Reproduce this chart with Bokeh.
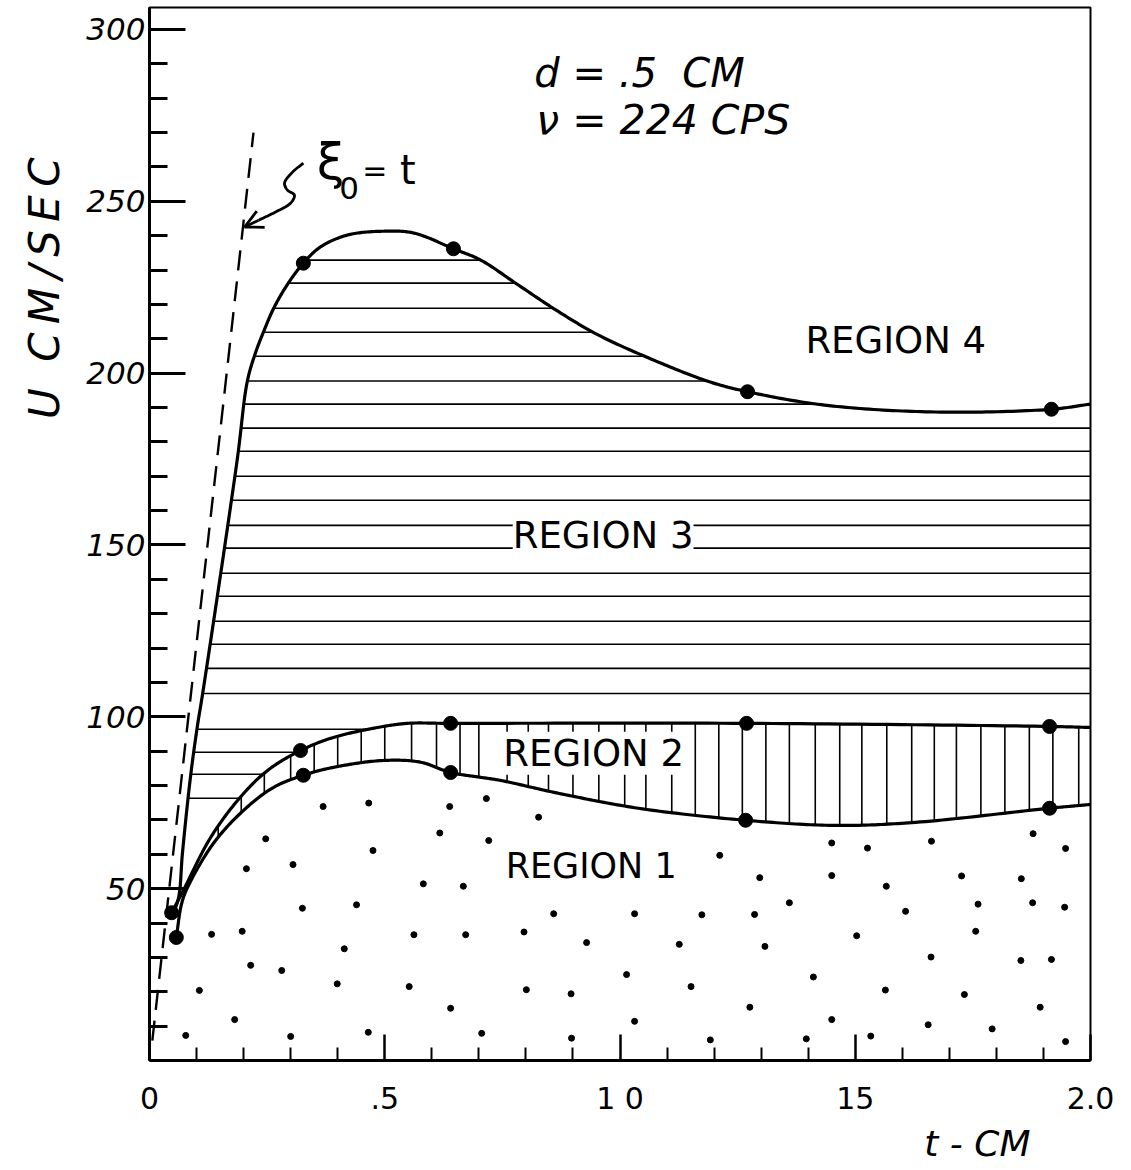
import numpy as np
from bokeh.plotting import figure
from bokeh.models import Range1d, FixedTicker, Label, Arrow, OpenHead, Title
from bokeh.embed import file_html
from bokeh.resources import INLINE

# ---------------- data ----------------
# boundary between region 3 and region 4
c4_t = [0.049, 0.062, 0.070, 0.087, 0.102, 0.113, 0.186, 0.208, 0.225, 0.242, 0.264,
        0.295, 0.327, 0.363, 0.421, 0.497, 0.561, 0.646, 0.704, 0.779, 0.859, 0.947,
        1.056, 1.190, 1.271, 1.435, 1.670, 1.917, 2.000]
c4_u = [42.2, 47.5, 60.3, 82.4, 97.5, 106.8, 174.4, 197.7, 205.8, 211.9, 218.9,
        226.2, 232.0, 236.7, 240.2, 241.3, 240.8, 236.2, 232.9, 226.1, 218.8, 211.6,
        204.7, 197.5, 194.6, 190.7, 188.7, 189.5, 191.0]
# boundary between region 2 and region 3
c2_t = [0.047, 0.072, 0.130, 0.193, 0.251, 0.321, 0.391, 0.485, 0.548, 0.640, 1.269, 1.913, 2.000]
c2_u = [43.0, 49.5, 64.9, 76.6, 84.4, 90.2, 94.0, 96.9, 98.1, 98.1, 98.1, 97.2, 96.9]
# boundary between region 1 and region 2
c1_t = [0.057, 0.068, 0.081, 0.136, 0.200, 0.264, 0.327, 0.391, 0.497, 0.576, 0.640,
        0.704, 0.746, 0.871, 1.039, 1.267, 1.460, 1.628, 1.913, 2.000]
c1_u = [35.8, 45.5, 50.4, 63.2, 72.8, 79.5, 83.0, 85.3, 87.3, 86.8, 83.8,
        82.4, 81.5, 77.7, 73.4, 69.9, 68.4, 69.3, 73.4, 74.5]

# measured points (large dots)
pt_t = [0.327, 0.646, 1.271, 1.917, 0.321, 0.640, 1.269, 1.913,
        0.327, 0.640, 1.267, 1.913, 0.057, 0.047]
pt_u = [232.0, 236.2, 194.6, 189.5, 90.2, 98.1, 98.1, 97.2,
        83.0, 83.8, 69.9, 73.4, 35.8, 43.0]

# line xi_0 = t (dashed)
xi_t = [0.006, 0.221]
xi_u = [5.8, 270.0]

# hatch levels of region 3 (U) and hatch positions of region 2 (t)
hatch_u = [232.9, 226.2, 218.9, 211.9, 204.9, 197.7, 191.0, 184.0, 177.3, 170.0, 163.0,
           155.7, 149.1, 141.8, 135.1, 127.8, 121.1, 114.1, 106.8, 96.4, 89.7, 83.3, 76.3]
vhatch_t = [0.146, 0.195, 0.244, 0.30, 0.35, 0.40, 0.45, 0.50, 0.557, 0.61, 0.66, 0.70,
            0.76, 0.805, 0.848, 0.90, 0.955, 1.01, 1.055, 1.11, 1.16, 1.21, 1.26, 1.31,
            1.36, 1.415, 1.467, 1.514, 1.567, 1.62, 1.668, 1.715, 1.767, 1.818, 1.87,
            1.92, 1.975]

# stipple dots of region 1
dot_t = [0.369, 0.466, 0.638, 0.716, 0.247, 0.475, 0.617, 0.721, 0.206, 0.305, 0.582,
         0.667, 0.325, 0.440, 0.132, 0.197, 0.562, 0.672, 0.414, 0.215, 0.281, 0.552,
         0.106, 0.399, 0.640, 0.181, 0.077, 0.300, 0.465, 0.706, 0.827, 1.212, 1.297,
         0.859, 1.031, 1.174, 1.286, 0.796, 0.929, 1.126, 1.308, 1.014, 0.801, 0.896,
         1.151, 1.276, 1.031, 0.897, 1.192, 1.450, 1.526, 1.662, 1.878, 1.947, 1.450,
         1.566, 1.726, 1.853, 1.360, 1.607, 1.761, 1.877, 1.945, 1.503, 1.756, 1.661,
         1.852, 1.917, 1.411, 1.564, 1.732, 1.893, 1.450, 1.655, 1.791, 1.396, 1.533,
         1.947]
dot_u = [73.9, 74.9, 73.9, 76.2, 64.5, 61.1, 66.2, 64.0, 55.8, 57.0, 51.4,
         50.7, 44.3, 45.3, 36.7, 37.6, 36.6, 36.6, 32.5, 27.7, 26.2, 21.5,
         20.4, 22.3, 15.2, 11.9, 7.3, 7.0, 8.2, 7.9, 70.8, 59.7, 53.2,
         42.7, 42.7, 42.4, 42.5, 37.4, 34.3, 33.8, 33.2, 25.0, 20.6, 19.4,
         21.5, 15.5, 11.4, 6.5, 6.0, 63.3, 61.8, 63.8, 66.0, 61.7, 53.8,
         50.7, 53.7, 52.9, 45.9, 43.4, 45.5, 45.9, 44.6, 36.3, 37.6, 30.1,
         29.1, 29.4, 24.3, 20.5, 19.2, 15.5, 11.9, 10.4, 9.2, 6.3, 7.1,
         5.5]

# squiggle of the pointer to the dashed line
sq_t = [0.327, 0.304, 0.287, 0.293, 0.308, 0.300, 0.268, 0.232]
sq_u = [261.1, 258.5, 255.3, 253.3, 251.8, 249.5, 246.9, 244.5]

# axis ticks
x_major = [0.0, 0.5, 1.0, 1.5, 2.0]
x_minor = [0.1, 0.2, 0.3, 0.4, 0.6, 0.7, 0.8, 0.9, 1.1, 1.2, 1.3, 1.4, 1.6, 1.7, 1.8, 1.9]
x_labels = ["0", ".5", "1\u00a00", "15", "2.0"]
y_major = [50, 100, 150, 200, 250, 300]
y_minor = [10, 20, 30, 40, 60, 70, 80, 90, 110, 120, 130, 140, 160, 170, 180, 190,
           210, 220, 230, 240, 260, 270, 280, 290]
y_labels = ["50", "100", "150", "200", "250", "300"]

# ---------------- helpers ----------------
SX, SY = 470.5, 3.435  # px per data unit, to make smoothing isotropic


def smooth(xs, ys, n=24):
    """Centripetal Catmull-Rom drawing path through the given points."""
    P = np.c_[np.asarray(xs) * SX, np.asarray(ys) * SY]
    P = np.vstack([2 * P[0] - P[1], P, 2 * P[-1] - P[-2]])
    out = []
    for i in range(1, len(P) - 2):
        p0, p1, p2, p3 = P[i - 1], P[i], P[i + 1], P[i + 2]
        t0 = 0.0
        t1 = t0 + max(np.linalg.norm(p1 - p0), 1e-6) ** 0.5
        t2 = t1 + max(np.linalg.norm(p2 - p1), 1e-6) ** 0.5
        t3 = t2 + max(np.linalg.norm(p3 - p2), 1e-6) ** 0.5
        s = np.linspace(t1, t2, n, endpoint=False)[:, None]
        a1 = (t1 - s) / (t1 - t0) * p0 + (s - t0) / (t1 - t0) * p1
        a2 = (t2 - s) / (t2 - t1) * p1 + (s - t1) / (t2 - t1) * p2
        a3 = (t3 - s) / (t3 - t2) * p2 + (s - t2) / (t3 - t2) * p3
        b1 = (t2 - s) / (t2 - t0) * a1 + (s - t0) / (t2 - t0) * a2
        b2 = (t3 - s) / (t3 - t1) * a2 + (s - t1) / (t3 - t1) * a3
        out.append((t2 - s) / (t2 - t1) * b1 + (s - t1) / (t2 - t1) * b2)
    out.append(P[-2][None, :])
    Q = np.vstack(out)
    return Q[:, 0] / SX, Q[:, 1] / SY


# ---------------- figure ----------------
FONT = "DejaVu Sans"
NB = "\u00a0"
p = figure(frame_width=941, frame_height=1053,
           x_range=Range1d(0, 2.0), y_range=Range1d(0, 306.4),
           output_backend="svg", toolbar_location=None,
           min_border_left=149, min_border_right=35, min_border_top=7, min_border_bottom=100)
p.grid.visible = False
p.background_fill_color = "white"
p.border_fill_color = "white"
p.outline_line_color = "black"
p.outline_line_width = 2

# x axis
p.xaxis.ticker = FixedTicker(ticks=x_major, minor_ticks=x_minor)
p.xaxis.major_label_overrides = {v: s for v, s in zip(x_major, x_labels)}
p.xaxis.axis_line_width = 3
p.xaxis.major_tick_in = 26
p.xaxis.major_tick_out = 0
p.xaxis.minor_tick_in = 13
p.xaxis.minor_tick_out = 0
p.xaxis.major_tick_line_width = 2.5
p.xaxis.minor_tick_line_width = 2
p.xaxis.major_label_text_font = FONT
p.xaxis.major_label_text_font_size = "30px"
p.xaxis.major_label_text_color = "black"
p.xaxis.major_label_standoff = 20

# y axis
p.yaxis.ticker = FixedTicker(ticks=y_major, minor_ticks=y_minor)
p.yaxis.major_label_overrides = {v: s for v, s in zip(y_major, y_labels)}
p.yaxis.axis_line_width = 3
p.yaxis.major_tick_in = 36
p.yaxis.major_tick_out = 0
p.yaxis.minor_tick_in = 18
p.yaxis.minor_tick_out = 0
p.yaxis.major_tick_line_width = 3
p.yaxis.minor_tick_line_width = 3
p.yaxis.major_label_text_font = FONT
p.yaxis.major_label_text_font_style = "italic"
p.yaxis.major_label_text_font_size = "31px"
p.yaxis.major_label_text_color = "black"
p.yaxis.major_label_standoff = 4

# axis titles placed like the hand lettering
p.add_layout(Title(text="U" + NB * 2 + "C\u2009M\u2009/\u2009S\u2009E\u2009C", align="right",
                   offset=150, text_font=FONT, text_font_size="42px", text_font_style="italic",
                   text_color="black", standoff=30), "left")
p.add_layout(Title(text="t - CM", align="right", offset=60, text_font=FONT,
                   text_font_size="36px", text_font_style="italic",
                   text_color="black", standoff=4), "below")

# ---------------- smoothed boundaries ----------------
s4t, s4u = smooth(c4_t, c4_u)
s2t, s2u = smooth(c2_t, c2_u)
s1t, s1u = smooth(c1_t, c1_u)
s4t = np.maximum.accumulate(s4t)
s2t = np.maximum.accumulate(s2t)
s1t = np.maximum.accumulate(s1t)

# ---------------- hatching ----------------
tt = np.linspace(0.0, 2.0, 8001)
c4_i = np.interp(tt, s4t, s4u, left=np.nan, right=np.nan)
c2_i = np.interp(tt, s2t, s2u, left=np.nan, right=np.nan)
hx, hy = [], []
for u in hatch_u:
    m = (u < c4_i) & (u > c2_i)
    edges = np.flatnonzero(np.diff(np.r_[0, m.astype(int), 0]))
    for s, e in zip(edges[::2], edges[1::2] - 1):
        if e - s > 10:
            hx.append([tt[s], tt[e]])
            hy.append([u, u])
p.multi_line(hx, hy, line_color="black", line_width=1.6)

vx, vy = [], []
for t in vhatch_t:
    lo = float(np.interp(t, s1t, s1u))
    hi = float(np.interp(t, s2t, s2u))
    vx.append([t, t])
    vy.append([lo, hi])
p.multi_line(vx, vy, line_color="black", line_width=1.6)

# stipple
p.scatter(dot_t, dot_u, size=6, color="black")

# ---------------- curves ----------------
for ct, cu in ((s4t, s4u), (s2t, s2u), (s1t, s1u)):
    p.line(ct, cu, line_color="black", line_width=3.2, line_join="round")
p.line(xi_t, xi_u, line_color="black", line_width=2.4, line_dash="20 11")
p.scatter(pt_t, pt_u, size=14, color="black")

# ---------------- annotations ----------------
qt, qu = smooth(sq_t, sq_u, n=12)
p.line(qt, qu, line_color="black", line_width=2.8, line_join="round")
p.add_layout(Arrow(end=OpenHead(size=18, line_width=2.8, line_color="black"),
                   x_start=sq_t[-1], y_start=sq_u[-1], x_end=0.202, y_end=242.5,
                   line_width=2.8, line_color="black"))


def lab(x, y, text, size, align="left", style="normal", bg=None, base="middle"):
    kw = dict(x=x, y=y, text=text, text_font=FONT, text_font_size=size,
              text_font_style=style, text_align=align, text_baseline=base,
              text_color="black")
    if bg:
        kw.update(background_fill_color=bg, background_fill_alpha=1.0)
    p.add_layout(Label(**kw))


lab(0.385, 261.5, "ξ", "50px", align="center")
lab(0.424, 253.8, "0", "31px", align="center")
lab(0.479, 259.1, "=", "30px", align="center", base="alphabetic")
lab(0.549, 259.1, "t", "40px", align="center", base="alphabetic")
lab(0.818, 287.3, "d = .5" + NB * 2 + "CM", "40px", style="italic")
lab(0.822, 273.7, "ν = 224 CPS", "41px", style="italic")
lab(1.394, 209.6, "REGION 4", "37px")
lab(0.772, 152.8, "REGION 3", "37px", bg="white")
lab(0.752, 89.4, "REGION 2", "37px", bg="white")
lab(0.757, 56.5, "REGION 1", "35px")

open("out.html", "w").write(file_html(p, INLINE))
